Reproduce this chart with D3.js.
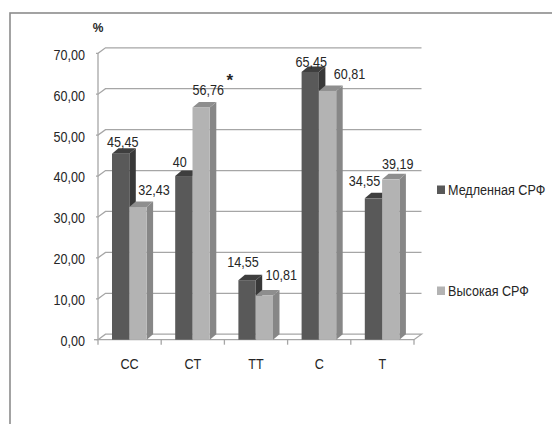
<!DOCTYPE html>
<html><head><meta charset="utf-8">
<script src="https://cdn.jsdelivr.net/npm/d3@7"></script>
<style>
html,body{margin:0;padding:0;background:#fff;}
svg{display:block;}
text{font-family:"Liberation Sans",Arial,sans-serif;fill:#262626;}
</style></head>
<body>
<svg id="chart" width="552" height="424"></svg>
<script>
const categories = ["CC", "CT", "TT", "C", "T"];
const seriesNames = ["Медленная СРФ", "Высокая СРФ"];
const slowValues = [45.45, 40, 14.55, 65.45, 34.55];
const highValues = [32.43, 56.76, 10.81, 60.81, 39.19];
const slowLabels = ["45,45", "40", "14,55", "65,45", "34,55"];
const highLabels = ["32,43", "56,76", "10,81", "60,81", "39,19"];
const yTicks = [0, 10, 20, 30, 40, 50, 60, 70];
const yTickLabels = ["0,00", "10,00", "20,00", "30,00", "40,00", "50,00", "60,00", "70,00"];
const unitLabel = "%";
const markText = "*";
const markCategory = "CT";

// layout (not data)
const labelNudge = [
  [[2, -7], [-4, -9], [-4, -13], [1, -5], [-9, -12]],
  [[16, -12], [7, -12], [17, -15], [22, -12], [7, -10]]
];

(function () {
const svg = d3.select("#chart");
const colors = [
  {front: "#595959", top: "#3e3e3e", side: "#383838"},
  {front: "#b3b3b3", top: "#8e8e8e", side: "#878787"}
];
const DX = 6.5, DY = -5.5;
const pLeft = 98, pRight = 414, pTop = 53.3, pBottom = 339.7;
const SQUEEZE = 0.84;
// text drawn in a horizontally condensed group (narrow look of the original font)
function addText(parent, x, yPos, str, anchor, baseline) {
  const t = parent.append("g").attr("transform", `translate(${x},${yPos}) scale(${SQUEEZE},1)`)
    .append("text").attr("x", 0).attr("y", 0)
    .attr("text-anchor", anchor || "start")
    .style("font-size", "15px").text(str);
  if (baseline) t.attr("dominant-baseline", baseline);
  return t;
}

svg.append("rect").attr("x", 10).attr("y", 13).attr("width", 560).attr("height", 430)
  .attr("fill", "#fff").attr("stroke", "#8c8c8c").attr("stroke-width", 1.6);

const y = d3.scaleLinear().domain([0, 70]).range([pBottom, pTop]);
const x0 = d3.scaleBand().domain(categories).range([pLeft, pRight]).paddingInner(0).paddingOuter(0);
const bw = x0.bandwidth();
const x1 = d3.scaleBand().domain(seriesNames).range([bw * 0.2215, bw * 0.769]).paddingInner(0).paddingOuter(0);

const grid = svg.append("g");
yTicks.forEach(t => {
  const yy = y(t);
  if (t > 0) {
    grid.append("path")
      .attr("d", `M${pLeft - 2},${yy} L${pLeft},${yy} L${pLeft + DX + 1},${yy + DY} L${pRight + DX + 1},${yy + DY}`)
      .attr("fill", "none").attr("stroke", "#a6a6a6").attr("stroke-width", 1.3);
  }
});
grid.append("path")
  .attr("d", `M${pLeft},${pBottom} L${pLeft + DX + 1},${pBottom + DY} L${pRight + DX + 1},${pBottom + DY} L${pRight},${pBottom} Z`)
  .attr("fill", "#fff").attr("stroke", "#a6a6a6").attr("stroke-width", 1.3);
grid.append("line").attr("x1", pLeft).attr("x2", pLeft).attr("y1", pTop).attr("y2", pBottom)
  .attr("stroke", "#a6a6a6").attr("stroke-width", 1.3);
grid.append("line").attr("x1", pLeft - 4).attr("x2", pLeft).attr("y1", pBottom).attr("y2", pBottom)
  .attr("stroke", "#a6a6a6").attr("stroke-width", 1.3);
d3.range(categories.length + 1).forEach(i => {
  const xx = pLeft + i * bw;
  grid.append("line").attr("x1", xx).attr("x2", xx).attr("y1", pBottom).attr("y2", pBottom + 5)
    .attr("stroke", "#a6a6a6").attr("stroke-width", 1.3);
});

const yLab = svg.append("g");
yTicks.forEach((d, i) => addText(yLab, 85, y(d) + 1, yTickLabels[i], "end", "central"));

svg.append("text").attr("x", 98).attr("y", 32).attr("text-anchor", "middle")
  .style("font-size", "12px").style("font-weight", "bold").text(unitLabel);

const xLab = svg.append("g");
categories.forEach(c => addText(xLab, x0(c) + bw / 2, 369, c, "middle"));

const seriesVals = [slowValues, highValues];
const seriesLbls = [slowLabels, highLabels];
const barsG = svg.append("g");
const bwi = x1.bandwidth();
categories.forEach((c, ci) => {
  seriesNames.forEach((s, si) => {
    const v = seriesVals[si][ci];
    const xl = x0(c) + x1(s);
    const yt = y(v);
    const g = barsG.append("g");
    g.append("path")
      .attr("d", `M${xl + bwi},${pBottom} L${xl + bwi},${yt} L${xl + bwi + DX},${yt + DY} L${xl + bwi + DX},${pBottom + DY} Z`)
      .attr("fill", colors[si].side);
    g.append("path")
      .attr("d", `M${xl},${yt} L${xl + DX},${yt + DY} L${xl + bwi + DX},${yt + DY} L${xl + bwi},${yt} Z`)
      .attr("fill", colors[si].top);
    g.append("rect").attr("x", xl).attr("y", yt).attr("width", bwi).attr("height", pBottom - yt)
      .attr("fill", colors[si].front);
  });
});

const labelsG = svg.append("g");
seriesNames.forEach((s, si) => {
  categories.forEach((c, ci) => {
    const v = seriesVals[si][ci];
    const cx = x0(c) + x1(s) + bwi / 2 + labelNudge[si][ci][0];
    const by = y(v) + labelNudge[si][ci][1];
    const t = addText(labelsG, cx, by, seriesLbls[si][ci], "middle");
    if (si === 1 && c === markCategory) {
      const w = t.node().getComputedTextLength() * SQUEEZE;
      labelsG.append("text").attr("x", cx + w / 2 + 2.5).attr("y", by - 9)
        .style("font-size", "17px").style("font-weight", "bold").text(markText);
    }
  });
});

const legendY = [190, 291];
const lg = svg.append("g");
seriesNames.forEach((s, si) => {
  lg.append("rect").attr("x", 437).attr("y", legendY[si] - 4.5).attr("width", 8).attr("height", 8.5)
    .attr("fill", colors[si].front);
  addText(lg, 448, legendY[si], s, "start", "central");
});
})();
</script>
</body></html>
